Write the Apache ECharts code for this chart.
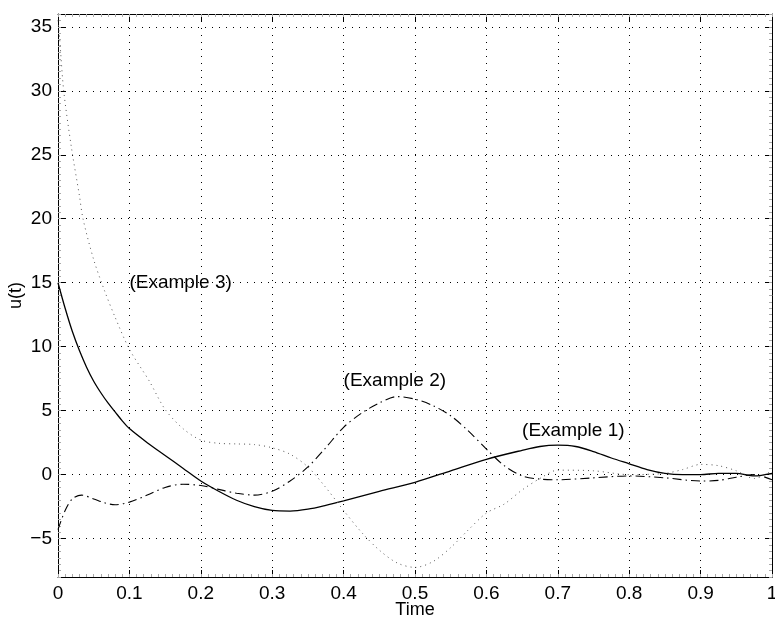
<!DOCTYPE html>
<html>
<head>
<meta charset="utf-8">
<script src="https://cdn.jsdelivr.net/npm/echarts@6/dist/echarts.min.js"></script>
<style>
  html, body { margin: 0; padding: 0; background: #fff; }
  #chart { width: 775px; height: 625px; }
</style>
</head>
<body>
<div id="chart"></div>
<script>
// Control signals u(t) for three examples
const ex1T = [0, .01, .02, .03, .04, .05, .06, .07, .08, .09, .1, .125, .15, .175, .2, .225, .25, .275, .3, .325, .35, .375, .4, .45, .5, .55, .6, .65, .675, .7, .725, .75, .775, .8, .825, .85, .875, .9, .925, .95, .975, 1];
const ex1U = [15, 13.0, 11.2, 9.7, 8.4, 7.3, 6.4, 5.6, 4.9, 4.2, 3.6, 2.5, 1.5, 0.5, -0.5, -1.3, -2.0, -2.5, -2.8, -2.85, -2.7, -2.4, -2.05, -1.3, -0.6, 0.3, 1.2, 1.9, 2.2, 2.3, 2.2, 1.8, 1.3, 0.85, 0.4, 0.1, 0.0, 0.0, 0.1, 0.1, -0.1, 0.1];

const ex2T = [0, .01, .02, .033, .05, .065, .08, .1, .125, .15, .175, .2, .225, .25, .275, .3, .325, .35, .375, .4, .425, .45, .475, .5, .525, .55, .575, .6, .625, .65, .675, .7, .75, .8, .85, .9, .925, .95, .975, 1];
const ex2U = [-4.3, -2.8, -1.9, -1.6, -1.9, -2.2, -2.35, -2.15, -1.6, -1.0, -0.75, -0.85, -1.15, -1.45, -1.6, -1.3, -0.5, 0.6, 2.1, 3.7, 4.8, 5.6, 6.1, 5.9, 5.4, 4.6, 3.4, 2.0, 0.7, -0.1, -0.35, -0.4, -0.25, -0.1, -0.25, -0.5, -0.45, -0.2, 0.0, -0.4];

const ex3T = [0, .0024, .008, .0187, .03, .035, .05, .065, .08, .1, .128, .15, .175, .2, .225, .25, .275, .3, .325, .35, .375, .4, .425, .45, .475, .5, .525, .55, .575, .6, .625, .65, .675, .7, .75, .8, .85, .875, .9, .925, .95, .975, 1];
const ex3U = [35.5, 34, 30, 25.6, 21.8, 20, 16.8, 14.4, 12.3, 9.8, 7.3, 5.1, 3.6, 2.7, 2.45, 2.4, 2.35, 2.1, 1.6, 0.6, -1.0, -2.8, -4.5, -5.9, -6.9, -7.25, -6.8, -5.7, -4.3, -3.0, -2.3, -1.2, -0.3, 0.35, 0.3, 0.0, 0.1, 0.4, 0.8, 0.7, 0.3, -0.3, 0.3];

// Curve annotations: anchor point (left edge, vertical middle) and text
const noteT = [0.1, 0.4, 0.65];
const noteU = [15, 7.3, 3.4];
const noteText = ['(Example 3)', '(Example 2)', '(Example 1)'];

// Axis ranges and tick labels
const xTicks = [0, 0.1, 0.2, 0.3, 0.4, 0.5, 0.6, 0.7, 0.8, 0.9, 1];
const yTicks = [-5, 0, 5, 10, 15, 20, 25, 30, 35];
const yMin = -8, yMax = 36;

const FONT = "'Liberation Sans', Arial, Helvetica, sans-serif";
const pairs = (t, u) => t.map((v, i) => [v, u[i]]);

const gridDots = { show: true, lineStyle: { color: '#000', width: 1, type: [1, 6] } };
const edgeLine = { show: true, onZero: false, lineStyle: { color: '#000', width: 1 } };
const majorTick = { show: true, inside: true, length: 7, lineStyle: { color: '#000' } };
const fineTick = { show: true, inside: true, length: 3, lineStyle: { color: '#aaa' } };
const noLine = { show: false, onZero: false };

const chart = echarts.init(document.getElementById('chart'), null, { renderer: 'canvas' });
chart.setOption({
  animation: false,
  backgroundColor: '#fff',
  grid: { left: 58, right: 3, top: 14, bottom: 48, containLabel: false, outerBoundsMode: 'none' },
  xAxis: [
    {
      type: 'value', min: 0, max: 1, interval: 0.1, position: 'bottom',
      name: 'Time', nameLocation: 'middle', nameGap: 24, nameMoveOverlap: false,
      nameTextStyle: { fontFamily: FONT, fontSize: 18, color: '#000' },
      axisLine: edgeLine, axisTick: majorTick,
      axisLabel: { fontFamily: FONT, fontSize: 19, color: '#000', margin: 7,
        formatter: v => (v === 0 || v === 1) ? String(v) : v.toFixed(1) },
      splitLine: gridDots
    },
    {
      type: 'value', min: 0, max: 1, interval: 0.1, position: 'top',
      axisLine: edgeLine, axisTick: majorTick,
      axisLabel: { show: false }, splitLine: { show: false }
    },
    // fine ticks along bottom and top edges
    {
      type: 'value', min: 0, max: 1, interval: 0.01, position: 'bottom',
      axisLine: noLine, axisTick: fineTick,
      axisLabel: { show: false }, splitLine: { show: false }
    },
    {
      type: 'value', min: 0, max: 1, interval: 0.01, position: 'top',
      axisLine: noLine, axisTick: fineTick,
      axisLabel: { show: false }, splitLine: { show: false }
    }
  ],
  yAxis: [
    {
      type: 'value', min: yMin, max: yMax, position: 'left',
      name: 'u(t)', nameLocation: 'middle', nameGap: 33, nameRotate: 90, nameMoveOverlap: false,
      nameTextStyle: { fontFamily: FONT, fontSize: 18, color: '#000' },
      axisLine: edgeLine,
      axisTick: Object.assign({ customValues: yTicks }, majorTick),
      axisLabel: { fontFamily: FONT, fontSize: 19, color: '#000', margin: 6, customValues: yTicks,
        formatter: v => v < 0 ? '\u2212' + Math.abs(v) : String(v) },
      splitLine: gridDots
    },
    {
      type: 'value', min: yMin, max: yMax, position: 'right',
      axisLine: edgeLine,
      axisTick: Object.assign({ customValues: yTicks }, majorTick),
      axisLabel: { show: false }, splitLine: { show: false }
    },
    {
      type: 'value', min: yMin, max: yMax, interval: 0.5, position: 'left',
      axisLine: noLine, axisTick: fineTick,
      axisLabel: { show: false }, splitLine: { show: false }
    },
    {
      type: 'value', min: yMin, max: yMax, interval: 0.5, position: 'right',
      axisLine: noLine, axisTick: fineTick,
      axisLabel: { show: false }, splitLine: { show: false }
    }
  ],
  series: [
    {
      name: 'Example 1', type: 'line', xAxisIndex: 0, yAxisIndex: 0,
      data: pairs(ex1T, ex1U), showSymbol: false, smooth: 0.3, clip: true,
      lineStyle: { color: '#000', width: 1.3, type: 'solid' }
    },
    {
      name: 'Example 2', type: 'line', xAxisIndex: 0, yAxisIndex: 0,
      data: pairs(ex2T, ex2U), showSymbol: false, smooth: 0.3, clip: true,
      lineStyle: { color: '#000', width: 1.1, type: [9, 4, 1.5, 4] }
    },
    {
      name: 'Example 3', type: 'line', xAxisIndex: 0, yAxisIndex: 0,
      data: pairs(ex3T, ex3U), showSymbol: false, smooth: 0.3, clip: true,
      lineStyle: { color: '#555', width: 1, type: [1, 4] }
    },
    {
      name: 'notes', type: 'scatter', xAxisIndex: 0, yAxisIndex: 0,
      data: noteT.map((t, i) => ({ value: [t, noteU[i]], label: { formatter: noteText[i] } })),
      symbolSize: 0, silent: true, z: 5,
      label: { show: true, position: 'right', distance: 0, fontFamily: FONT, fontSize: 19,
        color: '#000', opacity: 1, textBorderWidth: 0 }
    }
  ]
});
</script>
</body>
</html>
